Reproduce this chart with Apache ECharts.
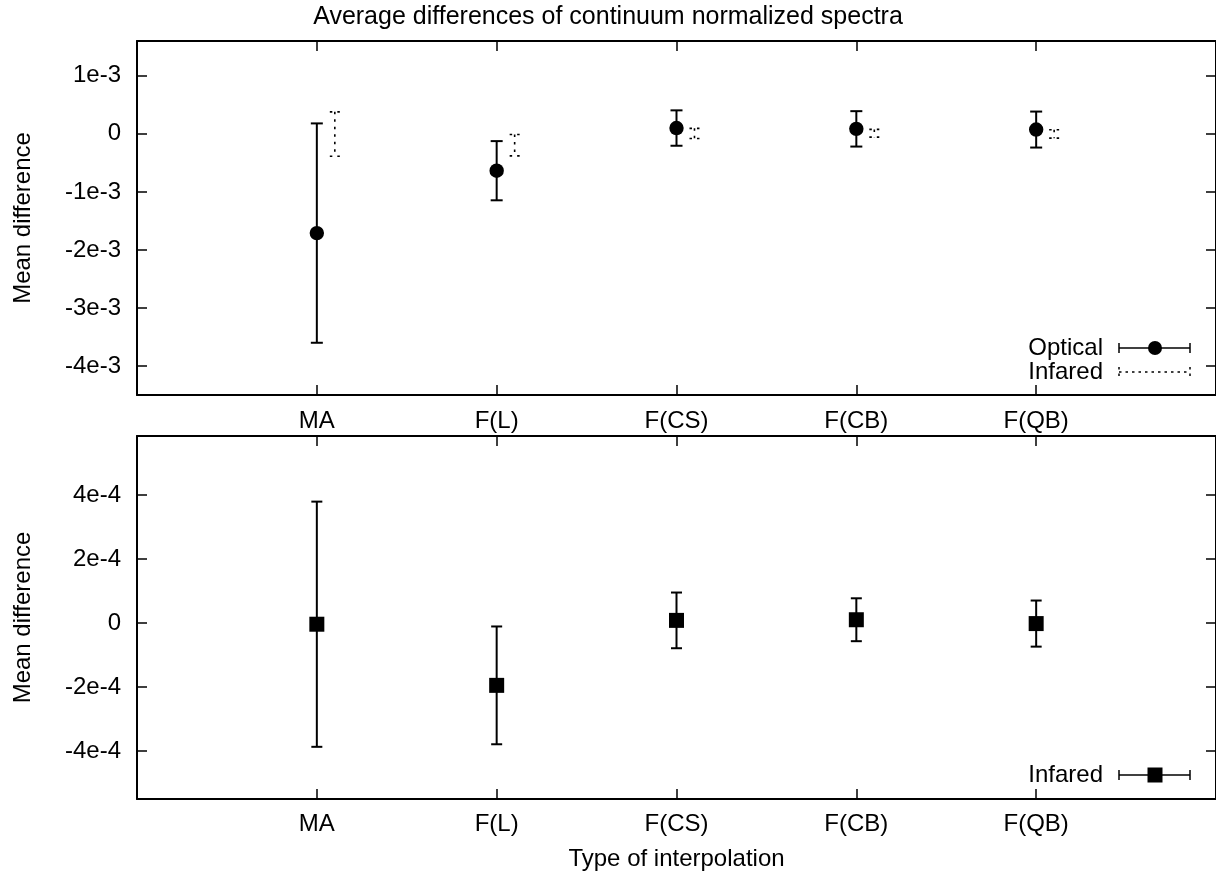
<!DOCTYPE html>
<html>
<head>
<meta charset="utf-8">
<script src="https://cdn.jsdelivr.net/npm/echarts@6/dist/echarts.min.js"></script>
<style>
html,body{margin:0;padding:0;background:#fff;}
#chart{width:1216px;height:879px;}
</style>
</head>
<body>
<div id="chart"></div>
<script>
const categories = ['MA', 'F(L)', 'F(CS)', 'F(CB)', 'F(QB)'];
const opticalMean = [-1.71e-3, -0.635e-3, 0.100e-3, 0.086e-3, 0.074e-3];
const opticalErr  = [1.89e-3, 0.51e-3, 0.305e-3, 0.305e-3, 0.31e-3];
const infaredMean = [-0.04e-4, -1.95e-4, 0.08e-4, 0.10e-4, -0.02e-4];
const infaredErr  = [3.83e-4, 1.84e-4, 0.87e-4, 0.67e-4, 0.72e-4];
const topTicks = [-4e-3, -3e-3, -2e-3, -1e-3, 0, 1e-3];
const topTickLabels = ['-4e-3', '-3e-3', '-2e-3', '-1e-3', '0', '1e-3'];
const botTicks = [-4e-4, -2e-4, 0, 2e-4, 4e-4];
const botTickLabels = ['-4e-4', '-2e-4', '0', '2e-4', '4e-4'];
const catPos = [1, 2, 3, 4, 5];

const FONT = 'Liberation Sans, Arial, sans-serif';
const FS = 24;

function toData(means, errs) {
  return means.map((m, i) => [i + 1, m, m - errs[i], m + errs[i]]);
}
function labelFor(ticks, labels) {
  return v => {
    for (let i = 0; i < ticks.length; i++) if (Math.abs(ticks[i] - v) < 1e-9) return labels[i];
    return '';
  };
}

function makeRender(opts) {
  return function (params, api) {
    const x = api.value(0) + opts.offset;
    const c = api.coord([x, api.value(1)]);
    const lo = api.coord([x, api.value(2)]);
    const hi = api.coord([x, api.value(3)]);
    const w = opts.cap;
    const st = {stroke: '#000', lineWidth: opts.lw, lineDash: opts.dash || null};
    const children = [
      {type: 'line', shape: {x1: c[0], y1: hi[1], x2: c[0], y2: lo[1]}, style: st},
      {type: 'line', shape: {x1: c[0] - w, y1: hi[1], x2: c[0] + w, y2: hi[1]}, style: st},
      {type: 'line', shape: {x1: c[0] - w, y1: lo[1], x2: c[0] + w, y2: lo[1]}, style: st}
    ];
    if (opts.marker === 'circle') {
      children.push({type: 'circle', shape: {cx: c[0], cy: c[1], r: 7.2}, style: {fill: '#000'}});
    } else if (opts.marker === 'square') {
      children.push({type: 'rect', shape: {x: c[0] - 7.5, y: c[1] - 7.5, width: 15, height: 15}, style: {fill: '#000'}});
    }
    return {type: 'group', children};
  };
}

const axisLineStyle = {show: true, onZero: false, lineStyle: {color: '#000', width: 2}};
const tickStyle = {show: true, inside: true, length: 10, lineStyle: {color: '#000', width: 1.5}};
const labelStyle = {color: '#000', fontFamily: FONT, fontSize: FS};

function xAxes(gridIndex, margin, name) {
  return [
    {
      type: 'value', gridIndex, min: 0, max: 6, position: 'bottom',
      axisLine: axisLineStyle, splitLine: {show: false},
      axisTick: Object.assign({}, tickStyle, {customValues: catPos}),
      axisLabel: Object.assign({}, labelStyle, {margin, customValues: catPos, formatter: v => categories[Math.round(v) - 1] || ''}),
      name: name || '', nameLocation: 'middle', nameGap: 48,
      nameTextStyle: {color: '#000', fontFamily: FONT, fontSize: FS}
    },
    {
      type: 'value', gridIndex, min: 0, max: 6, position: 'top',
      axisLine: axisLineStyle, splitLine: {show: false},
      axisTick: Object.assign({}, tickStyle, {customValues: catPos}),
      axisLabel: {show: false}
    }
  ];
}
function yAxes(gridIndex, min, max, ticks, labels) {
  return [
    {
      type: 'value', gridIndex, min, max, position: 'left',
      axisLine: axisLineStyle, splitLine: {show: false},
      axisTick: Object.assign({}, tickStyle, {customValues: ticks}),
      axisLabel: Object.assign({}, labelStyle, {margin: 16, customValues: ticks, formatter: labelFor(ticks, labels)}),
      name: 'Mean difference', nameLocation: 'middle', nameRotate: 90, nameGap: 102,
      nameTextStyle: {color: '#000', fontFamily: FONT, fontSize: FS}
    },
    {
      type: 'value', gridIndex, min, max, position: 'right',
      axisLine: axisLineStyle, splitLine: {show: false},
      axisTick: Object.assign({}, tickStyle, {customValues: ticks}),
      axisLabel: {show: false}
    }
  ];
}

const chart = echarts.init(document.getElementById('chart'), null, {renderer: 'canvas'});

const legendText = (x, y, t) => ({type: 'text', x, y, style: {text: t, fill: '#000', font: FS + 'px ' + FONT, textAlign: 'right', textVerticalAlign: 'middle'}});
const legendBar = (y, dash, lw) => ([
  {type: 'line', shape: {x1: 1119, y1: y, x2: 1190, y2: y}, style: {stroke: '#000', lineWidth: lw, lineDash: dash}},
  {type: 'line', shape: {x1: 1119, y1: y - 5, x2: 1119, y2: y + 5}, style: {stroke: '#000', lineWidth: lw, lineDash: dash}},
  {type: 'line', shape: {x1: 1190, y1: y - 5, x2: 1190, y2: y + 5}, style: {stroke: '#000', lineWidth: lw, lineDash: dash}}
]);

chart.setOption({
  animation: false,
  backgroundColor: '#fff',
  title: {
    text: 'Average differences of continuum normalized spectra',
    left: 'center', top: 0,
    textStyle: {color: '#000', fontFamily: FONT, fontSize: 25, fontWeight: 'normal'}
  },
  grid: [
    {left: 137, top: 41, width: 1080, height: 354},
    {left: 137, top: 436, width: 1080, height: 363}
  ],
  xAxis: [].concat(xAxes(0, 14), xAxes(1, 13, 'Type of interpolation')),
  yAxis: [].concat(
    yAxes(0, -4.5e-3, 1.6e-3, topTicks, topTickLabels),
    yAxes(1, -5.5e-4, 5.84e-4, botTicks, botTickLabels)
  ),
  series: [
    {
      type: 'custom', name: 'Optical', xAxisIndex: 0, yAxisIndex: 0,
      renderItem: makeRender({offset: 0, cap: 6, lw: 2, marker: 'circle'}),
      data: toData(opticalMean, opticalErr), encode: {x: 0, y: [1, 2, 3]}
    },
    {
      type: 'custom', name: 'Infared', xAxisIndex: 0, yAxisIndex: 0,
      renderItem: makeRender({offset: 0.1, cap: 5, lw: 1.6, dash: [2.5, 5], marker: null}),
      data: toData(infaredMean, infaredErr), encode: {x: 0, y: [1, 2, 3]}
    },
    {
      type: 'custom', name: 'Infared', xAxisIndex: 2, yAxisIndex: 2,
      renderItem: makeRender({offset: 0, cap: 5.5, lw: 2, marker: 'square'}),
      data: toData(infaredMean, infaredErr), encode: {x: 0, y: [1, 2, 3]}
    }
  ],
  graphic: [
    legendText(1103, 348, 'Optical'),
    ...legendBar(348, null, 1.5),
    {type: 'circle', shape: {cx: 1155, cy: 348, r: 7}, style: {fill: '#000'}},
    legendText(1103, 372, 'Infared'),
    ...legendBar(372, [2.5, 4], 1.5),
    legendText(1103, 775, 'Infared'),
    ...legendBar(775, null, 1.5),
    {type: 'rect', shape: {x: 1147.5, y: 767.5, width: 15, height: 15}, style: {fill: '#000'}}
  ]
});
</script>
</body>
</html>
